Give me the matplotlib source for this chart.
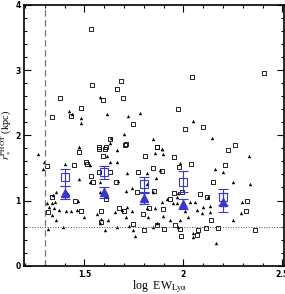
import matplotlib
matplotlib.use("Agg")
import matplotlib.pyplot as plt
from matplotlib.ticker import MultipleLocator

# ================= DATA =================
# open squares (log EW, r in kpc)
sq_x = [1.532, 1.537, 1.377, 1.338, 1.433, 1.483, 1.596, 1.663, 1.687, 1.694,
        1.747, 1.630, 1.574, 1.606, 1.709, 2.042, 2.407, 1.971, 2.007, 2.098,
        1.865, 2.261, 2.225, 1.473, 1.574, 1.608, 1.596, 1.705, 1.806, 1.311,
        1.448, 1.508, 1.515, 1.576, 1.630, 1.534, 1.545, 1.660, 1.771, 1.338,
        1.453, 1.609, 1.764, 1.318, 1.483, 1.584, 1.677, 1.700, 1.795, 1.584,
        1.747, 1.801, 1.865, 1.954, 1.980, 2.039, 2.210, 1.848, 1.890, 2.151,
        1.852, 1.953, 1.995, 2.084, 2.121, 1.933, 1.828, 2.323, 1.899, 2.316,
        2.138, 1.865, 1.902, 1.959, 1.983, 1.986, 2.076, 2.067, 2.114, 2.177,
        2.362]
sq_y = [3.625, 2.766, 2.577, 2.281, 2.291, 2.424, 2.536, 2.710, 2.833, 2.577,
        2.168, 1.943, 1.790, 1.790, 1.866, 2.899, 2.960, 2.408, 2.102, 2.122,
        1.815, 1.851, 1.780, 1.739, 1.816, 1.816, 1.688, 1.856, 1.688, 1.529,
        1.539, 1.596, 1.560, 1.432, 1.432, 1.376, 1.289, 1.289, 1.432, 1.059,
        0.992, 1.023, 1.125, 0.829, 0.844, 0.844, 0.880, 0.839, 0.793, 0.665,
        0.635, 0.548, 1.816, 1.672, 1.509, 1.560, 1.545, 1.504, 1.458, 1.289,
        1.146, 1.110, 1.125, 1.095, 1.049, 1.028, 0.890, 0.992, 0.865, 0.844,
        0.701, 0.624, 0.558, 0.624, 0.558, 0.456, 0.548, 0.471, 0.573, 0.573,
        0.548]

# filled triangles
tr_x = [1.424, 1.436, 1.485, 1.485, 1.579, 1.616, 1.719, 1.702, 1.783, 1.475,
        1.636, 2.047, 1.848, 1.890, 2.146, 1.473, 1.630, 1.667, 1.613, 1.264,
        1.296, 1.293, 1.404, 1.529, 1.630, 1.667, 1.714, 1.471, 1.529, 1.579,
        1.672, 1.815, 1.739, 1.357, 1.343, 1.407, 1.419, 1.579, 1.709, 1.310,
        1.335, 1.352, 1.470, 1.323, 1.348, 1.374, 1.407, 1.431, 1.461, 1.562,
        1.655, 1.717, 1.688, 1.739, 1.338, 1.357, 1.498, 1.584, 1.579, 1.621,
        1.710, 1.727, 1.315, 1.394, 1.604, 1.667, 1.744, 1.756, 1.857, 1.890,
        1.895, 1.983, 2.160, 2.202, 2.333, 1.818, 1.882, 1.862, 2.252, 2.337,
        1.845, 1.975, 1.970, 2.126, 1.919, 2.034, 2.059, 1.890, 1.949, 1.966,
        1.815, 2.298, 2.101, 2.135, 1.857, 2.289, 1.823, 1.895, 2.008, 2.025,
        2.067, 2.092, 2.133, 1.983, 1.933, 2.252, 1.865, 1.848, 1.975, 2.050,
        2.047, 2.165]
tr_y = [2.373, 2.332, 2.270, 2.189, 2.587, 2.327, 2.301, 2.015, 2.347, 1.815,
        1.953, 2.224, 1.938, 1.790, 1.953, 1.816, 1.887, 1.775, 1.688, 1.713,
        1.591, 1.483, 1.560, 1.545, 1.585, 1.585, 1.417, 1.330, 1.279, 1.289,
        1.299, 1.253, 1.187, 1.125, 1.084, 1.125, 1.095, 1.136, 1.151, 0.957,
        0.967, 0.982, 0.992, 0.906, 0.880, 0.854, 0.844, 0.844, 0.854, 0.788,
        0.819, 0.895, 0.854, 0.844, 0.778, 0.701, 0.742, 0.716, 0.650, 0.701,
        0.742, 0.609, 0.558, 0.589, 0.548, 0.589, 0.548, 0.461, 1.723, 1.785,
        1.713, 1.580, 1.483, 1.442, 1.683, 1.417, 1.468, 1.350, 1.279, 1.248,
        1.136, 1.120, 1.059, 1.049, 1.023, 0.982, 0.982, 0.972, 0.957, 0.957,
        0.880, 0.982, 0.906, 0.916, 0.880, 0.813, 0.752, 0.762, 0.839, 0.752,
        0.854, 0.813, 0.829, 0.701, 0.701, 0.701, 0.650, 0.588, 0.588, 0.497,
        0.445, 0.343]

# binned means (blue)
bin_x = [1.4, 1.6, 1.8, 2.0, 2.2]
sq_mean = [1.355, 1.432, 1.248, 1.289, 1.059]
sq_err = [0.135, 0.100, 0.120, 0.160, 0.120]
tr_mean = [1.120, 1.125, 1.033, 0.946, 0.972]
tr_err = [0.100, 0.090, 0.090, 0.080, 0.150]

ew_cut = 1.3
r_cut = 0.6

# ================= PLOT =================
plt.rcParams['mathtext.fontset'] = 'stix'
blue = '#3838d0'

fig = plt.figure(figsize=(2.85, 2.94), dpi=100)
ax = fig.add_axes([24/285, 28.3/294, 260/285, 260.7/294])

ax.scatter(sq_x, sq_y, marker='s', s=8, facecolors='none', edgecolors='black', linewidths=0.6)
ax.scatter(tr_x, tr_y, marker='^', s=6, color='black', linewidths=0)

ax.errorbar(bin_x, sq_mean, yerr=sq_err, fmt='s', ms=6, mfc='none', mec=blue, mew=0.8,
            ecolor=blue, elinewidth=0.8, capsize=3.5, capthick=0.8)
ax.errorbar(bin_x, tr_mean, yerr=tr_err, fmt='^', ms=5.5, color=blue,
            ecolor=blue, elinewidth=0.8, capsize=3.5, capthick=0.8)

ax.axvline(ew_cut, color='0.45', ls=(0, (5, 3)), lw=0.9)
ax.axhline(r_cut, color='0.3', ls=':', lw=0.7)

ax.set_xlim(1.195, 2.508)
ax.set_ylim(0, 4)

ax.xaxis.set_minor_locator(MultipleLocator(0.1))
ax.yaxis.set_minor_locator(MultipleLocator(0.2))
ax.set_xticks([1.5, 2.0, 2.5])
ax.set_xticklabels(['1.5', '2', '2.5'])
ax.set_yticks([0, 1, 2, 3, 4])
ax.set_yticklabels(['0', '1', '2', '3', '4'])

ax.tick_params(which='both', direction='in', top=True, right=True, width=0.8)
ax.tick_params(which='major', length=5, labelsize=5.5, pad=3)
ax.tick_params(axis='y', which='major', pad=2.5)
ax.tick_params(which='minor', length=2.5)
for lab in ax.get_xticklabels() + ax.get_yticklabels():
    lab.set_fontweight('bold')

for sp in ax.spines.values():
    sp.set_linewidth(1.2)

ax.set_xlabel(r'log  EW$_{\rm Ly\alpha}$', family='Liberation Serif', fontsize=8.5)
ax.set_ylabel(r'$r_*^{\rm PHOT}$ (kpc)', family='Liberation Serif', fontsize=7.5)
# keep labels inside the small canvas
ax.xaxis.set_label_coords(0.52, -0.05)
ax.yaxis.set_label_coords(-0.04, 0.5)

fig.savefig('out.png', dpi=100)
